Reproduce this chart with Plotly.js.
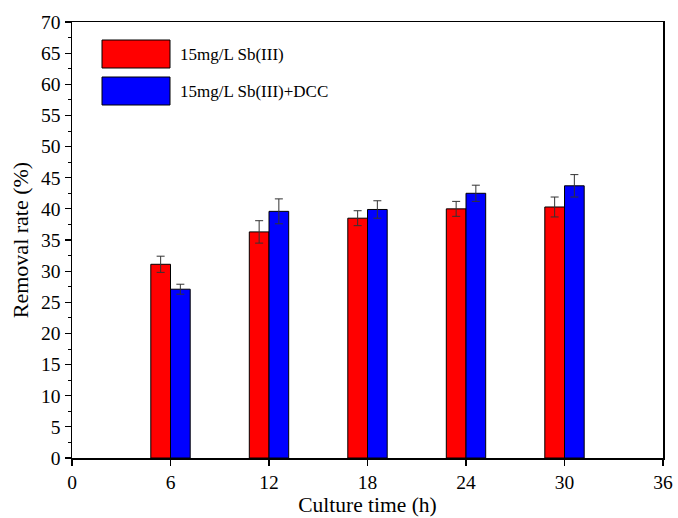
<!DOCTYPE html>
<html>
<head>
<meta charset="utf-8">
<script src="https://cdn.plot.ly/plotly-3.0.1.min.js"></script>
<style>html,body{margin:0;padding:0;background:#fff;}#chart{width:678px;height:518px;}</style>
</head>
<body>
<div id="chart"></div>
<script>
const times = [6, 12, 18, 24, 30];
const seriesNames = ["15mg/L Sb(III)", "15mg/L Sb(III)+DCC"];
const sbValues = [31.1, 36.3, 38.5, 40.0, 40.3];
const sbErrors = [1.3, 1.8, 1.2, 1.2, 1.6];
const dccValues = [27.1, 39.6, 39.9, 42.5, 43.7];
const dccErrors = [0.8, 2.0, 1.4, 1.3, 1.8];
const xTicks = [0, 6, 12, 18, 24, 30, 36];
const yTicks = [0, 5, 10, 15, 20, 25, 30, 35, 40, 45, 50, 55, 60, 65, 70];

const font = "Liberation Serif, Times New Roman, serif";
const barW = 1.2;
const errStyle = {type: "data", visible: true, color: "#333", thickness: 1, width: 4};

const traces = [
  {type: "bar", x: times, y: sbValues, name: seriesNames[0], width: barW, offset: -barW,
   marker: {color: "#ff0000", line: {color: "#000", width: 1}},
   error_y: Object.assign({array: sbErrors}, errStyle)},
  {type: "bar", x: times, y: dccValues, name: seriesNames[1], width: barW, offset: 0,
   marker: {color: "#0000ff", line: {color: "#000", width: 1}},
   error_y: Object.assign({array: dccErrors}, errStyle)}
];

const colors = ["#ff0000", "#0000ff"];
const shapes = [];
const annotations = [];
const W = 678, H = 518, L = 72, R = 15, T = 22, B = 60;
const pw = W - L - R, ph = H - T - B;
function px(x) { return (x - L) / pw; }
function py(y) { return 1 - (y - T) / ph; }
seriesNames.forEach((n, i) => {
  const y0 = 40 + i * 37;
  shapes.push({type: "rect", xref: "paper", yref: "paper",
    x0: px(102), x1: px(170), y0: py(y0), y1: py(y0 + 28),
    fillcolor: colors[i], line: {color: "#000", width: 1}});
  annotations.push({xref: "paper", yref: "paper", x: px(178), y: py(y0 + 14),
    xanchor: "left", yanchor: "middle", text: n, showarrow: false,
    font: {family: font, size: 17, color: "#000"}});
});

const layout = {
  width: W, height: H,
  margin: {l: L, r: R, t: T, b: B},
  paper_bgcolor: "#fff", plot_bgcolor: "#fff",
  showlegend: false,
  barmode: "overlay",
  font: {family: font, size: 19, color: "#000"},
  xaxis: {range: [0, 36], tickvals: xTicks, ticktext: xTicks.map(String),
    showgrid: false, zeroline: false, showline: true, linecolor: "#000", linewidth: 1.5,
    mirror: true, ticks: "outside", ticklen: 6, tickcolor: "#000", tickwidth: 1.2,
    tickfont: {family: font, size: 19.5},
    title: {text: "Culture time (h)", font: {family: font, size: 21.5}, standoff: 0}},
  yaxis: {range: [0, 70], tickvals: yTicks, ticktext: yTicks.map(String),
    showgrid: false, zeroline: false, showline: true, linecolor: "#000", linewidth: 1.5,
    mirror: true, ticks: "outside", ticklen: 6, tickcolor: "#000", tickwidth: 1.2,
    minor: {dtick: 2.5, ticks: "outside", ticklen: 3, tickcolor: "#000", tickwidth: 1},
    tickfont: {family: font, size: 19.5},
    title: {text: "Removal rate (%)", font: {family: font, size: 22}, standoff: 6}},
  shapes: shapes,
  annotations: annotations
};

Plotly.newPlot("chart", traces, layout, {staticPlot: true, displayModeBar: false});
</script>
</body>
</html>
